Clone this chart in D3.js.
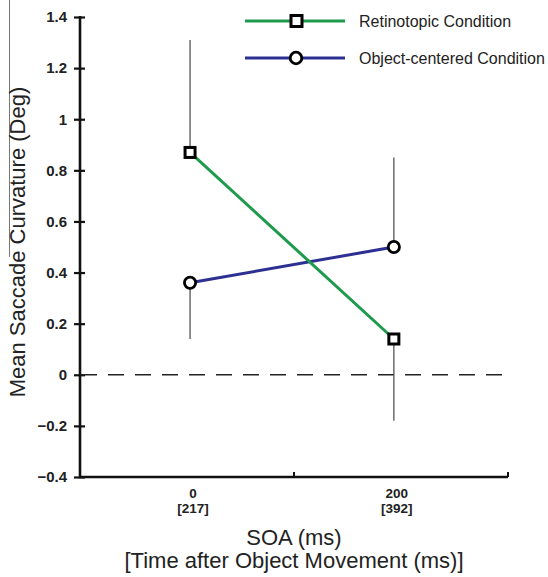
<!DOCTYPE html>
<html>
<head>
<meta charset="utf-8">
<script src="https://cdn.jsdelivr.net/npm/d3@7"></script>
<style>
  body { margin: 0; background: #fff; }
  text { font-family: Arial, "Liberation Sans", sans-serif; }
</style>
</head>
<body>
<div id="chart"></div>
<script>
// data
var soa = [0, 200];
var soaLabels = ["0", "200"];
var timeLabels = ["[217]", "[392]"];
var retinotopic = [0.87, 0.14];
var retinoErrTop = [1.31, 0.14];
var retinoErrBottom = [0.87, -0.18];
var objectCentered = [0.36, 0.50];
var objectErrTop = [0.36, 0.85];
var objectErrBottom = [0.14, 0.50];
var yTicks = [-0.4, -0.2, 0, 0.2, 0.4, 0.6, 0.8, 1, 1.2, 1.4];

var width = 548, height = 577;

var svg = d3.select("#chart").append("svg")
    .attr("width", width)
    .attr("height", height);

// scales
var x = d3.scaleLinear().domain([-108, 312]).range([80, 508]);
var y = d3.scaleLinear().domain([-0.4, 1.4]).range([477, 17]);

// stray line at left edge
svg.append("line")
    .attr("x1", 9.5).attr("x2", 9.5)
    .attr("y1", 0).attr("y2", 257)
    .style("stroke", "#777")
    .style("stroke-width", 1);

// y axis
var yAxis = svg.append("g")
    .attr("transform", "translate(80,0)")
    .call(d3.axisLeft(y).tickValues(yTicks).tickSize(6).tickPadding(7)
      .tickFormat(function(d) { return d3.format("")(+d.toFixed(1)); }));
yAxis.select(".domain").remove();
yAxis.selectAll(".tick line")
    .attr("x2", 5).attr("x1", -6)
    .style("stroke", "#111").style("stroke-width", 2.2);
yAxis.append("line")
    .attr("x1", 0).attr("x2", 0)
    .attr("y1", y(1.4) - 1).attr("y2", y(-0.4) + 1)
    .style("stroke", "#111").style("stroke-width", 2.6);
yAxis.selectAll(".tick text")
    .style("font-size", "15px")
    .style("font-weight", "bold")
    .style("fill", "#222");

// x axis
var xAxis = svg.append("g")
    .attr("transform", "translate(0,477)");
xAxis.append("line")
    .attr("x1", 79).attr("x2", x(312))
    .style("stroke", "#111").style("stroke-width", 2.6);
xAxis.selectAll(".xtick")
    .data([102, 312])
  .enter().append("line")
    .attr("x1", function(d) { return x(d); })
    .attr("x2", function(d) { return x(d); })
    .attr("y1", 0).attr("y2", -5)
    .style("stroke", "#111").style("stroke-width", 2);
xAxis.selectAll(".soa")
    .data(soa)
  .enter().append("text")
    .attr("x", function(d) { return x(d) + 3; })
    .attr("y", 21)
    .attr("text-anchor", "middle")
    .style("font-size", "13.5px")
    .style("font-weight", "bold")
    .style("fill", "#222")
    .text(function(d, i) { return soaLabels[i]; });
xAxis.selectAll(".time")
    .data(soa)
  .enter().append("text")
    .attr("x", function(d) { return x(d) + 3; })
    .attr("y", 36)
    .attr("text-anchor", "middle")
    .style("font-size", "13.5px")
    .style("font-weight", "bold")
    .style("fill", "#222")
    .text(function(d, i) { return timeLabels[i]; });

// axis titles
svg.append("text")
    .attr("x", 294).attr("y", 545)
    .attr("text-anchor", "middle")
    .style("font-size", "22px")
    .style("fill", "#222")
    .text("SOA (ms)");
svg.append("text")
    .attr("x", 294).attr("y", 568)
    .attr("text-anchor", "middle")
    .style("font-size", "22px")
    .style("fill", "#222")
    .text("[Time after Object Movement (ms)]");
svg.append("text")
    .attr("transform", "translate(25,242) rotate(-90)")
    .attr("text-anchor", "middle")
    .style("font-size", "22px")
    .style("fill", "#222")
    .text("Mean Saccade Curvature (Deg)");

// zero line
svg.append("line")
    .attr("x1", x(-108) + 1).attr("x2", 506)
    .attr("y1", y(0)).attr("y2", y(0))
    .style("stroke", "#222")
    .style("stroke-width", 1.4)
    .style("stroke-dasharray", "16,11");

// error bars
function errorBars(top, bottom) {
  svg.append("g").selectAll("line")
      .data(soa)
    .enter().append("line")
      .attr("x1", function(d) { return x(d); })
      .attr("x2", function(d) { return x(d); })
      .attr("y1", function(d, i) { return y(top[i]); })
      .attr("y2", function(d, i) { return y(bottom[i]); })
      .style("stroke", "#555")
      .style("stroke-width", 1.3);
}
errorBars(retinoErrTop, retinoErrBottom);
errorBars(objectErrTop, objectErrBottom);

var line = d3.line()
    .x(function(d) { return x(d[0]); })
    .y(function(d) { return y(d[1]); });

var green = "#1d9a4b", blue = "#2c3092";

svg.append("path")
    .datum(d3.zip(soa, objectCentered))
    .attr("d", line)
    .style("fill", "none")
    .style("stroke", blue)
    .style("stroke-width", 3);
svg.append("path")
    .datum(d3.zip(soa, retinotopic))
    .attr("d", line)
    .style("fill", "none")
    .style("stroke", green)
    .style("stroke-width", 3);

// markers
svg.selectAll(".circ")
    .data(d3.zip(soa, objectCentered))
  .enter().append("circle")
    .attr("cx", function(d) { return x(d[0]); })
    .attr("cy", function(d) { return y(d[1]); })
    .attr("r", 5.6)
    .style("fill", "#fff")
    .style("stroke", "#000")
    .style("stroke-width", 2.8);
svg.selectAll(".sq")
    .data(d3.zip(soa, retinotopic))
  .enter().append("rect")
    .attr("x", function(d) { return x(d[0]) - 5; })
    .attr("y", function(d) { return y(d[1]) - 5; })
    .attr("width", 10)
    .attr("height", 10)
    .style("fill", "#fff")
    .style("stroke", "#000")
    .style("stroke-width", 3);

// legend
var legend = svg.append("g");
var legendItems = [
  {name: "Retinotopic Condition", color: green, shape: "square", y: 21},
  {name: "Object-centered Condition", color: blue, shape: "circle", y: 58}
];
legendItems.forEach(function(d) {
  legend.append("line")
      .attr("x1", 245).attr("x2", 345)
      .attr("y1", d.y).attr("y2", d.y)
      .style("stroke", d.color).style("stroke-width", 3);
  if (d.shape === "square") {
    legend.append("rect")
        .attr("x", 291).attr("y", d.y - 5.5)
        .attr("width", 11).attr("height", 11)
        .style("fill", "#fff").style("stroke", "#000").style("stroke-width", 3);
  } else {
    legend.append("circle")
        .attr("cx", 296).attr("cy", d.y).attr("r", 5.8)
        .style("fill", "#fff").style("stroke", "#000").style("stroke-width", 2.8);
  }
  legend.append("text")
      .attr("x", 359).attr("y", d.y + 6)
      .style("font-size", "16px")
      .style("fill", "#222")
      .text(d.name);
});
</script>
</body>
</html>
